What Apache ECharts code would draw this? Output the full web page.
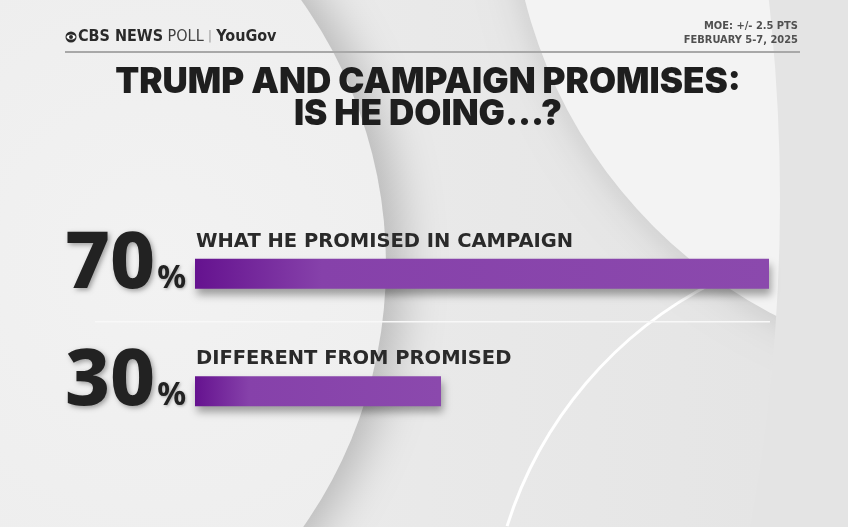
<!DOCTYPE html>
<html>
<head>
<meta charset="utf-8">
<script src="https://cdn.jsdelivr.net/npm/echarts@6/dist/echarts.min.js"></script>
<style>html,body{margin:0;padding:0;background:#e6e6e6;}#c{width:848px;height:527px;}</style>
</head>
<body>
<div id="c"></div>
<script>
const categories = ['WHAT HE PROMISED IN CAMPAIGN', 'DIFFERENT FROM PROMISED'];
const values = [70, 30];
const titleLines = ['TRUMP AND CAMPAIGN PROMISES:', 'IS HE DOING...?'];
const moeText = 'MOE: +/- 2.5 PTS';
const dateText = 'FEBRUARY 5-7, 2025';

const chart = echarts.init(document.getElementById('c'), null, {renderer: 'canvas'});
const D = Math.PI / 180;
const barGrad = new echarts.graphic.LinearGradient(0, 0, 1, 0, [
  {offset: 0, color: '#65128f'},
  {offset: 0.22, color: '#8641aa'},
  {offset: 1, color: '#8b49ad'}
]);
const numFamily = '"Noto Sans", "DejaVu Sans"';

const option = {
  backgroundColor: '#e6e6e6',
  animation: false,
  graphic: [
    {type: 'rect', z: -20, silent: true, shape: {x: 0, y: 0, width: 848, height: 527},
     style: {fill: new echarts.graphic.LinearGradient(0, 0, 1, 0, [{offset: 0, color: '#eeeeee'}, {offset: 1, color: '#e4e4e4'}])}},
    {type: 'circle', z: -19, silent: true, shape: {cx: 1000, cy: -120, r: 490},
     style: {fill: '#f3f3f3', shadowBlur: 40, shadowColor: 'rgba(0,0,0,0.15)'}},
    {type: 'ring', z: -18, silent: true, shape: {cx: -1017, cy: 200, r0: 1797, r: 2900},
     style: {fill: new echarts.graphic.LinearGradient(0, 0, 1, 0, [{offset: 0.62, color: '#d8d8d8'}, {offset: 0.66, color: '#e4e4e4'}, {offset: 1, color: '#e4e4e4'}])}},
    {type: 'circle', z: -17, silent: true, shape: {cx: -70, cy: 265, r: 456},
     style: {fill: new echarts.graphic.RadialGradient(0.75, 0.5, 0.7, [{offset: 0, color: '#f2f2f2'}, {offset: 1, color: '#eaeaea'}]),
             shadowBlur: 45, shadowOffsetX: 16, shadowColor: 'rgba(0,0,0,0.22)'}},
    {type: 'arc', z: -16, silent: true, shape: {cx: 900, cy: 650, r: 412, startAngle: -162.5 * D, endAngle: -116.8 * D, clockwise: true},
     style: {stroke: '#ffffff', lineWidth: 3, fill: null}},
    // header
    {type: 'circle', z: 5, shape: {cx: 71, cy: 37, r: 5.5}, style: {fill: '#2a2a2a'}},
    {type: 'ellipse', z: 6, shape: {cx: 71, cy: 37, rx: 4.5, ry: 2.6}, style: {fill: '#ffffff'}},
    {type: 'circle', z: 7, shape: {cx: 71, cy: 37, r: 2}, style: {fill: '#2a2a2a'}},
    {type: 'text', z: 5, x: 78, y: 37, style: {
      text: '{a|CBS NEWS}{b| POLL}{c| | }{a|YouGov}', verticalAlign: 'middle', align: 'left',
      rich: {
        a: {font: 'bold condensed 16px "DejaVu Sans"', fill: '#2a2a2a'},
        b: {font: 'condensed 16px "DejaVu Sans"', fill: '#404040'},
        c: {font: '13px "DejaVu Sans"', fill: '#a0a0a0'}
      }}},
    {type: 'text', z: 5, x: 798, y: 26, style: {text: moeText, font: 'bold condensed 11px "DejaVu Sans"', fill: '#505050', align: 'right', verticalAlign: 'middle'}},
    {type: 'text', z: 5, x: 798, y: 40, style: {text: dateText, font: 'bold condensed 11px "DejaVu Sans"', fill: '#505050', align: 'right', verticalAlign: 'middle'}},
    {type: 'rect', z: 5, shape: {x: 65, y: 51, width: 735, height: 2}, style: {fill: '#a8a8a8'}},
    // title
    {type: 'text', z: 5, x: 428, y: 82, style: {text: titleLines[0], font: '900 35px "Inter", "DejaVu Sans"', fill: '#1e1e1e', align: 'center', verticalAlign: 'middle'}},
    {type: 'text', z: 5, x: 428, y: 114, style: {text: titleLines[1], font: '900 35px "Inter", "DejaVu Sans"', fill: '#1e1e1e', align: 'center', verticalAlign: 'middle'}},
    // separator
    {type: 'rect', z: 5, shape: {x: 95, y: 321, width: 675, height: 1.5}, style: {fill: '#f8f8f8'}}
  ],
  grid: {left: 195, right: 79, top: 215, height: 235, containLabel: false},
  xAxis: {type: 'value', min: 0, max: 'dataMax', show: false},
  yAxis: {
    type: 'category', data: categories, inverse: true,
    axisLine: {show: false}, axisTick: {show: false}, splitLine: {show: false},
    axisLabel: {
      margin: 9, padding: [0, 0, 18, 0],
      formatter: function (v, i) { return '{n|' + values[i] + '}{p|%}'; },
      rich: {
        n: {fontFamily: numFamily, fontWeight: '800', fontSize: 78, lineHeight: 80, color: '#222222', verticalAlign: 'bottom',
            textShadowColor: 'rgba(0,0,0,0.35)', textShadowBlur: 5, textShadowOffsetX: 2, textShadowOffsetY: 2},
        p: {fontFamily: numFamily, fontWeight: '700', fontSize: 32, lineHeight: 30, color: '#222222', verticalAlign: 'bottom', padding: [0, 0, 10, 2],
            textShadowColor: 'rgba(0,0,0,0.3)', textShadowBlur: 3, textShadowOffsetX: 1, textShadowOffsetY: 1}
      }
    }
  },
  series: [{
    type: 'bar', data: values, barWidth: 30,
    itemStyle: {color: barGrad, shadowColor: 'rgba(0,0,0,0.35)', shadowBlur: 8, shadowOffsetY: 6, shadowOffsetX: 2},
    label: {show: true, position: [1, -7], align: 'left', verticalAlign: 'bottom', formatter: '{b}',
            fontFamily: '"DejaVu Sans", sans-serif', fontWeight: 'bold', fontSize: 19.5, color: '#2a2a2a'}
  }]
};
chart.setOption(option);
</script>
</body>
</html>
